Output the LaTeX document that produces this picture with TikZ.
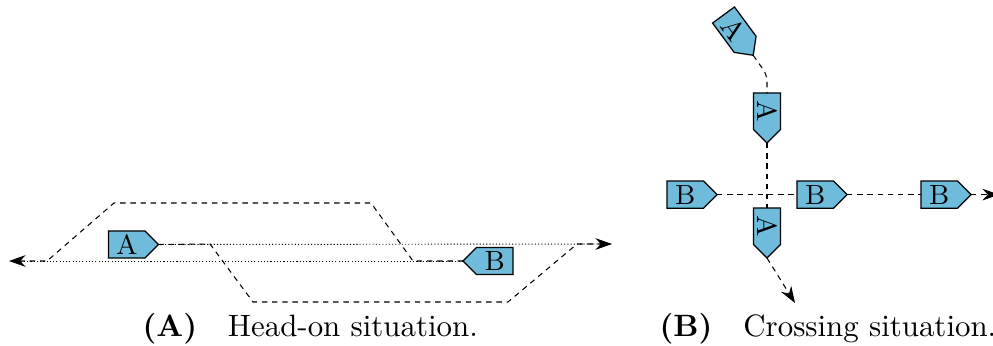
\documentclass[tikz,border=0pt]{standalone}
\usetikzlibrary{arrows.meta,shapes.symbols}
\definecolor{vesselblue}{HTML}{6FBBDB}
\tikzset{
  vessel/.style={shape=signal,signal to=east,signal pointer angle=90,draw=black,line width=0.4pt,fill=vesselblue,
    minimum width=16.2pt,minimum height=8.8pt,inner sep=0pt,outer sep=0pt,font=\fontsize{9}{10}\selectfont,anchor=west},
  track/.style={line width=0.34pt,dash pattern=on 1.75pt off 1.55pt},
  lane/.style={line width=0.3pt,dash pattern=on 0.35pt off 0.7pt},
  tip/.style={-{Stealth[length=5.4pt,width=3.8pt,inset=1.8pt]}},
  caption/.style={anchor=base west,inner sep=0pt,font=\fontsize{10}{12}\selectfont}
}
\begin{document}
\begin{tikzpicture}[x=0.3237pt,y=-0.3237pt]
\clip (0,0) rectangle (993,345);
% Head-on situation
\node[vessel] (a) at (108.5,244.5) {A};
\node[vessel,signal to=west,anchor=east] (b) at (513,261) {B};
\coordinate (al) at (9,261);
\coordinate (ar) at (612,244);
\coordinate (a1) at (210,244);
\coordinate (a2) at (253,302);
\coordinate (a3) at (508,302);
\coordinate (a4) at (577,244);
\coordinate (b1) at (413,261);
\coordinate (b2) at (371,203);
\coordinate (b3) at (114,203);
\coordinate (b4) at (47,261);
\draw[lane] (a.east) -- (ar);
\draw[lane] (b.west) -- (al);
\draw[track,tip] (a.east) -- (a1) -- (a2) -- (a3) -- (a4) -- (ar);
\draw[track,tip] (b.west) -- (b1) -- (b2) -- (b3) -- (b4) -- (al);
% Crossing situation
\node[vessel,rotate=-53.6] (p) at (723.5,15) {A};
\node[vessel,rotate=-90] (q) at (767,93) {A};
\node[vessel,rotate=-90] (r) at (767,208) {A};
\node[vessel] (s) at (667,194.6) {B};
\node[vessel] (t) at (797,194.6) {B};
\node[vessel] (u) at (921,194.6) {B};
\coordinate (pq) at (767,75);
\coordinate (re) at (795,303);
\coordinate (ue) at (999,194.6);
\draw[track,rounded corners=2pt] (p.east) -- (pq) -- (q.west);
\draw[track] (q.east) -- (r.west);
\draw[track,tip] (r.east) -- (re);
\draw[track] (s.east) -- (t.west);
\draw[track] (t.east) -- (u.west);
\draw[track,tip] (u.east) -- (ue);
% Captions
\node[caption] (c1) at (142,336) {\textbf{(A)}\quad Head-on situation.};
\node[caption] (c2) at (659,336) {\textbf{(B)}\quad Crossing situation.};
\end{tikzpicture}
\end{document}
